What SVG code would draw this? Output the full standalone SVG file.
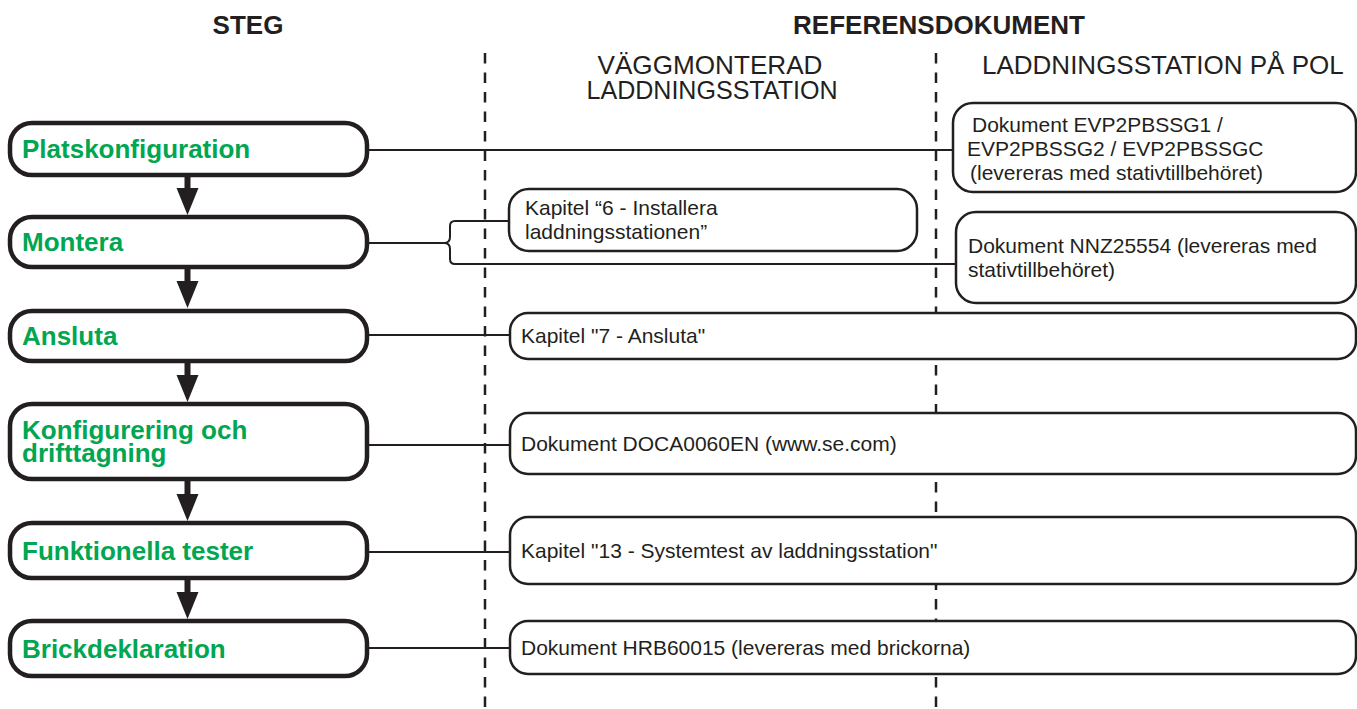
<svg xmlns="http://www.w3.org/2000/svg" width="1357" height="709" viewBox="0 0 1357 709">
<style>
 .hd{font-family:"Liberation Sans",Arial,sans-serif;font-weight:bold;font-size:26px;fill:#231f20}
 .col{font-family:"Liberation Sans",Arial,sans-serif;font-size:26px;fill:#231f20}
 .step rect{fill:#fff;stroke:#231f20;stroke-width:4.5}
 .step text{font-family:"Liberation Sans",Arial,sans-serif;font-weight:bold;font-size:26px;fill:#00a651}
 .ref rect{fill:#fff;stroke:#231f20;stroke-width:2.5}
 .ref text{font-family:"Liberation Sans",Arial,sans-serif;font-size:21px;fill:#231f20}
 .dash{stroke:#231f20;stroke-width:2.5;stroke-dasharray:10.5 9;fill:none}
 .conn{stroke:#231f20;stroke-width:2;fill:none}
 .arrow{fill:#231f20}
</style>
<rect width="1357" height="709" fill="#fff"/>
<g id="headings">
 <text class="hd" x="248" y="34" text-anchor="middle">STEG</text>
 <text class="hd" x="939" y="34" text-anchor="middle">REFERENSDOKUMENT</text>
 <text class="col" x="710" y="74" text-anchor="middle" textLength="225" lengthAdjust="spacingAndGlyphs">VÄGGMONTERAD</text>
 <text class="col" x="712" y="99" text-anchor="middle" textLength="251" lengthAdjust="spacingAndGlyphs">LADDNINGSSTATION</text>
 <text class="col" x="982" y="74">LADDNINGSSTATION PÅ POL</text>
</g>
<g id="dividers">
 <line class="dash" x1="485" y1="53" x2="485" y2="709"/>
 <line class="dash" x1="936" y1="53" x2="936" y2="709"/>
</g>
<g id="connectors">
 <path class="conn" d="M367,150 H953"/>
 <path class="conn" d="M367,243 H444 M455,221 H509 M455,264 H956 M455,221 Q450,221 450,226 L450,237 Q450,243 444,243 Q450,243 450,249 L450,259 Q450,264 455,264"/>
 <path class="conn" d="M367,335 H510"/>
 <path class="conn" d="M367,445 H510"/>
 <path class="conn" d="M367,552 H510"/>
 <path class="conn" d="M367,648 H510"/>
 <g class="arrow">
  <rect x="184.5" y="175" width="6" height="15"/>
  <polygon points="176.5,188 198.5,188 187.5,215"/>
  <rect x="184.5" y="267" width="6" height="16"/>
  <polygon points="176.5,281 198.5,281 187.5,308"/>
  <rect x="184.5" y="361" width="6" height="16"/>
  <polygon points="176.5,375 198.5,375 187.5,402"/>
  <rect x="184.5" y="479" width="6" height="16"/>
  <polygon points="176.5,494 198.5,494 187.5,521"/>
  <rect x="184.5" y="578" width="6" height="15"/>
  <polygon points="176.5,592 198.5,592 187.5,619"/>
 </g>
</g>
<g id="step-platskonfiguration" class="step">
 <rect x="10" y="123" width="357" height="52" rx="22"/>
 <text x="22" y="158">Platskonfiguration</text>
</g>
<g id="step-montera" class="step">
 <rect x="10" y="217" width="357" height="50" rx="22"/>
 <text x="22" y="251">Montera</text>
</g>
<g id="step-ansluta" class="step">
 <rect x="10" y="311" width="357" height="50" rx="22"/>
 <text x="22" y="345">Ansluta</text>
</g>
<g id="step-konfigurering" class="step">
 <rect x="10" y="404" width="357" height="75" rx="22"/>
 <text x="22" y="439">Konfigurering och</text>
 <text x="22" y="462">drifttagning</text>
</g>
<g id="step-funktionella" class="step">
 <rect x="10" y="523" width="357" height="55" rx="22"/>
 <text x="22" y="560">Funktionella tester</text>
</g>
<g id="step-brickdeklaration" class="step">
 <rect x="10" y="621" width="357" height="55" rx="22"/>
 <text x="22" y="658">Brickdeklaration</text>
</g>
<g id="ref-evp" class="ref">
 <rect x="953" y="103" width="403" height="89" rx="20"/>
 <text x="972" y="132">Dokument EVP2PBSSG1 /</text>
 <text x="967" y="156">EVP2PBSSG2 / EVP2PBSSGC</text>
 <text x="970" y="180">(levereras med stativtillbehöret)</text>
</g>
<g id="ref-kapitel6" class="ref">
 <rect x="509" y="189" width="408" height="62" rx="20"/>
 <text x="525" y="215">Kapitel “6 - Installera</text>
 <text x="525" y="239">laddningsstationen”</text>
</g>
<g id="ref-nnz" class="ref">
 <rect x="956" y="212" width="400" height="91" rx="20"/>
 <text x="968" y="253">Dokument NNZ25554 (levereras med</text>
 <text x="968" y="277">stativtillbehöret)</text>
</g>
<g id="ref-kapitel7" class="ref">
 <rect x="510" y="313" width="846" height="46" rx="18"/>
 <text x="521" y="343">Kapitel "7 - Ansluta"</text>
</g>
<g id="ref-doca" class="ref">
 <rect x="510" y="413" width="846" height="61" rx="18"/>
 <text x="521" y="451">Dokument DOCA0060EN (www.se.com)</text>
</g>
<g id="ref-kapitel13" class="ref">
 <rect x="510" y="517" width="846" height="67" rx="18"/>
 <text x="521" y="558">Kapitel "13 - Systemtest av laddningsstation"</text>
</g>
<g id="ref-hrb" class="ref">
 <rect x="510" y="621" width="846" height="53" rx="18"/>
 <text x="521" y="655">Dokument HRB60015 (levereras med brickorna)</text>
</g>
</svg>
